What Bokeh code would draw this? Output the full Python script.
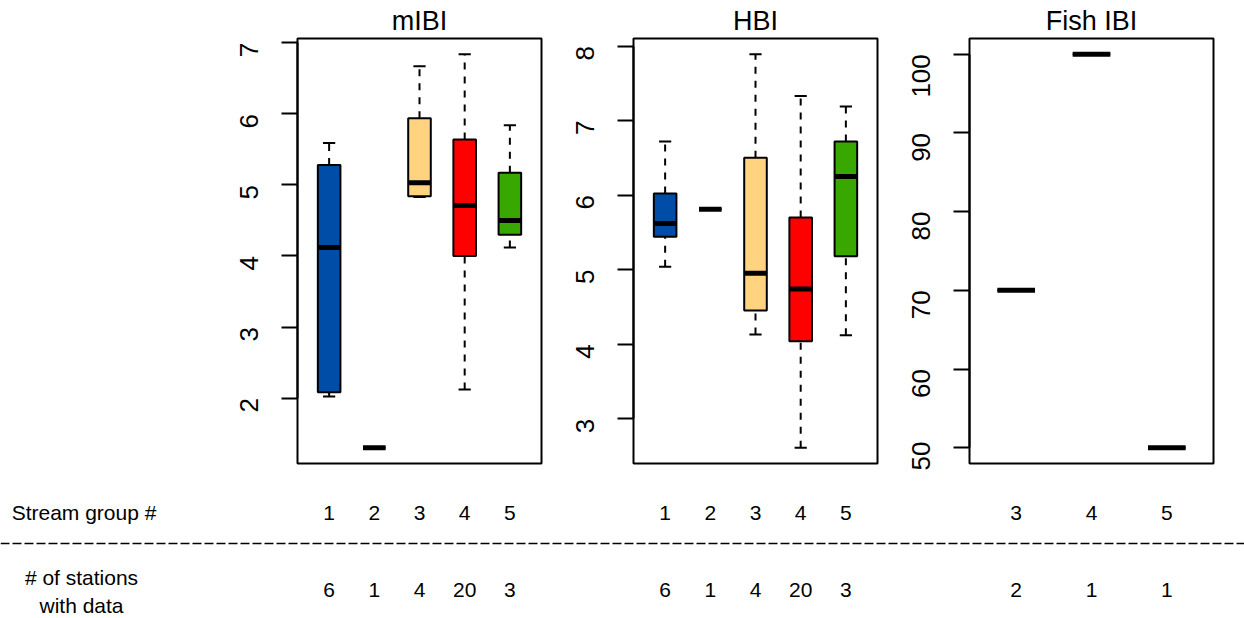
import math
from bokeh.plotting import figure
from bokeh.layouts import column, row
from bokeh.models import Range1d, SingleIntervalTicker, Span
from bokeh.embed import file_html
from bokeh.resources import INLINE
from bokeh.core.properties import value

# ---------------- data ----------------
mibi_groups = ["1", "2", "3", "4", "5"]
mibi_lo = [2.02, 1.30, 4.83, 2.12, 4.12]
mibi_q1 = [2.08, 1.30, 4.84, 4.00, 4.30]
mibi_med = [4.12, 1.30, 5.03, 4.71, 4.50]
mibi_q3 = [5.28, 1.30, 5.94, 5.64, 5.17]
mibi_hi = [5.59, 1.30, 6.67, 6.84, 5.84]
mibi_n = [6, 1, 4, 20, 3]

hbi_groups = ["1", "2", "3", "4", "5"]
hbi_lo = [5.04, 5.81, 4.13, 2.61, 4.12]
hbi_q1 = [5.44, 5.81, 4.45, 4.04, 5.18]
hbi_med = [5.62, 5.81, 4.95, 4.74, 6.25]
hbi_q3 = [6.02, 5.81, 6.50, 5.70, 6.72]
hbi_hi = [6.72, 5.81, 7.89, 7.33, 7.19]
hbi_n = [6, 1, 4, 20, 3]

fish_groups = ["3", "4", "5"]
fish_lo = [70, 100, 50]
fish_q1 = [70, 100, 50]
fish_med = [70, 100, 50]
fish_q3 = [70, 100, 50]
fish_hi = [70, 100, 50]
fish_n = [2, 1, 1]

group_colors = {"1": "#004DA8", "2": "#004DA8", "3": "#FFD37F", "4": "#FF0000", "5": "#38A800"}

# ---------------- layout constants ----------------
PAGE_W = 1244
TOP_H = 470
BOT_H = 148
FRAME_TOP = 38
FRAME_H = 425
FRAME_W = 244
FONT = value("Liberation Sans")

panel_widths = [560, 336, 348]
panel_lefts = [297, 73, 73]


def make_panel(title, groups, lo, q1, med, q3, hi, width, left, interval):
    n = len(groups)
    pos = list(range(1, n + 1))
    pad = 0.04 * n
    xr = Range1d(0.5 - pad, n + 0.5 + pad)
    ymin, ymax = min(lo), max(hi)
    sp = (ymax - ymin) * 0.04
    yr = Range1d(ymin - sp, ymax + sp)
    p = figure(width=width, height=TOP_H, x_range=xr, y_range=yr,
               output_backend="svg", toolbar_location=None,
               min_border_left=left, min_border_right=width - left - FRAME_W,
               min_border_top=FRAME_TOP,
               min_border_bottom=TOP_H - FRAME_TOP - FRAME_H,
               title=title)
    p.title.text_font = "Liberation Sans"
    p.title.text_font_size = "27px"
    p.title.text_font_style = "normal"
    p.title.text_color = "black"
    p.title.align = "center"
    p.title.standoff = 5
    p.xaxis.visible = False
    p.grid.visible = False
    p.outline_line_color = "black"
    p.outline_line_width = 2
    p.outline_line_alpha = 1
    p.background_fill_color = "white"
    p.border_fill_color = "white"

    ax = p.yaxis[0]
    ax.ticker = SingleIntervalTicker(interval=interval)
    ax.bounds = (math.ceil(yr.start / interval) * interval,
                 math.floor(yr.end / interval) * interval)
    ax.major_label_orientation = math.pi / 2
    ax.major_tick_out = 16
    ax.major_tick_in = 0
    ax.minor_tick_out = 0
    ax.minor_tick_in = 0
    ax.axis_line_width = 2
    ax.major_tick_line_width = 2
    ax.major_label_text_font = "Liberation Sans"
    ax.major_label_text_font_size = "26px"
    ax.major_label_text_color = "black"
    ax.major_label_standoff = 32

    cols = [group_colors[g] for g in groups]
    half = 0.25
    cap = 0.135
    # whiskers (dashed)
    p.segment(x0=pos, y0=q3, x1=pos, y1=hi, line_color="black", line_width=2, line_dash="7 7")
    p.segment(x0=pos, y0=lo, x1=pos, y1=q1, line_color="black", line_width=2, line_dash="7 7")
    # staples
    p.segment(x0=[x - cap for x in pos], y0=hi, x1=[x + cap for x in pos], y1=hi,
              line_color="black", line_width=2)
    p.segment(x0=[x - cap for x in pos], y0=lo, x1=[x + cap for x in pos], y1=lo,
              line_color="black", line_width=2)
    # boxes
    p.vbar(x=pos, width=2 * half, bottom=q1, top=q3, fill_color=cols,
           line_color="black", line_width=2)
    # medians
    p.segment(x0=[x - half for x in pos], y0=med, x1=[x + half for x in pos], y1=med,
              line_color="black", line_width=5)
    return p, xr


p1, xr1 = make_panel("mIBI", mibi_groups, mibi_lo, mibi_q1, mibi_med, mibi_q3, mibi_hi,
                     panel_widths[0], panel_lefts[0], 1)
p2, xr2 = make_panel("HBI", hbi_groups, hbi_lo, hbi_q1, hbi_med, hbi_q3, hbi_hi,
                     panel_widths[1], panel_lefts[1], 1)
p3, xr3 = make_panel("Fish IBI", fish_groups, fish_lo, fish_q1, fish_med, fish_q3, fish_hi,
                     panel_widths[2], panel_lefts[2], 10)

# ---------------- bottom table ----------------
b = figure(width=PAGE_W, height=BOT_H, x_range=Range1d(0, PAGE_W),
           y_range=Range1d(TOP_H + BOT_H, TOP_H),
           x_axis_type=None, y_axis_type=None, min_border=0,
           output_backend="svg", toolbar_location=None)
b.grid.visible = False
b.outline_line_color = None

ROW1_Y = 512
ROW2_Y = 589
panel_info = [(xr1, mibi_groups, mibi_n), (xr2, hbi_groups, hbi_n), (xr3, fish_groups, fish_n)]
offset = 0
for i, (xr, groups, counts) in enumerate(panel_info):
    frame_left = offset + panel_lefts[i]
    offset += panel_widths[i]
    scale = (xr.end - xr.start) / FRAME_W
    name = "panel%d" % i
    b.extra_x_ranges[name] = Range1d(xr.start - frame_left * scale,
                                     xr.start + (PAGE_W - frame_left) * scale)
    pos = list(range(1, len(groups) + 1))
    b.text(x=pos, y=[ROW1_Y] * len(pos), text=groups, x_range_name=name,
           text_align="center", text_baseline="middle", text_font=FONT,
           text_font_size="21px", text_color="black")
    b.text(x=pos, y=[ROW2_Y] * len(pos), text=[str(c) for c in counts], x_range_name=name,
           text_align="center", text_baseline="middle", text_font=FONT,
           text_font_size="21px", text_color="black")

b.text(x=[83.5], y=[ROW1_Y], text=["Stream group #"], text_align="center",
       text_baseline="middle", text_font=FONT, text_font_size="21px", text_color="black")
b.text(x=[81, 81], y=[577, 605], text=["# of stations", "with data"], text_align="center",
       text_baseline="middle", text_font=FONT, text_font_size="21px", text_color="black")
b.add_layout(Span(location=543, dimension="width", line_color="black", line_width=1.5,
                  line_dash="9 3"))

layout = column(row(p1, p2, p3), b)
open("out.html", "w").write(file_html(layout, INLINE))
